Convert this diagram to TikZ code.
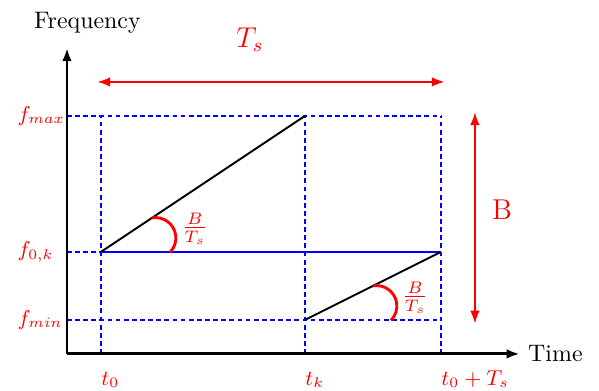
\documentclass[tikz,border=0pt]{standalone}
\usepackage{amsmath}
\usepackage{tikz}
\usetikzlibrary{arrows.meta,positioning,calc}

\begin{document}
\begin{tikzpicture}[
    x=0.5cm, y=0.5cm,
    >=Latex,
    axis/.style={-{Latex[length=5.5pt,width=4pt]}, very thick},
    grid/.style={blue, dash pattern=on 2pt off 1.4pt, semithick},
    chirp/.style={thick},
    lbl/.style={red},
    dim/.style={<->, red, line width=0.5pt},
    ang/.style={red, very thick}
]
    \useasboundingbox (-1.97,-1.09) rectangle (15.65,10.41);

    % axes and grid points
    \coordinate (O) at (0,0);
    \coordinate (xend) at (13.32,0);
    \coordinate (yend) at (0,9);
    \coordinate (t0) at (1,0);
    \coordinate (tk) at (7,0);
    \coordinate (tn) at (11,0);
    \coordinate (fmax) at (0,7);
    \coordinate (f0k) at (0,3);
    \coordinate (fmin) at (0,1);

    % dashed grid
    \draw[grid] (fmax) -- (tn |- fmax);
    \draw[grid] (fmin) -- (tn |- fmin);
    \draw[grid] (f0k) -- (t0 |- f0k);
    \draw[grid] (t0) -- (t0 |- fmax);
    \draw[grid] (tk) -- (tk |- fmax);
    \draw[grid] (tn) -- (tn |- fmax);
    \draw[blue, semithick] (t0 |- f0k) -- (tn |- f0k);

    \draw[axis] (O) -- (xend);
    \draw[axis] (O) -- (yend);
    \node[anchor=west] (time) at (xend) {Time};
    \node (freq) at (0.6,9.75) {Frequency};

    % chirp segments
    \draw[chirp] (t0 |- f0k) -- (tk |- fmax);
    \draw[chirp] (tk |- fmin) -- (tn |- f0k);

    % slope marks
    \draw[ang] (2.5,4) arc (100:-45:0.6);
    \draw[ang] (9,2) arc (100:-45:0.6);
    \node[lbl] (s1) at (3.76,3.68) {$\frac{B}{T_s}$};
    \node[lbl] (s2) at (10.24,1.65) {$\frac{B}{T_s}$};

    % axis labels
    \node[lbl, anchor=west, font=\small] (lmax) at (-1.7,7) {$f_{max}$};
    \node[lbl, anchor=west, font=\small] (l0k) at (-1.7,3) {$f_{0,k}$};
    \node[lbl, anchor=west, font=\small] (lmin) at (-1.7,1) {$f_{min}$};
    \node[lbl, anchor=base west, inner sep=0pt, font=\small] (lt0) at (1,-0.92) {$t_0$};
    \node[lbl, anchor=base west, inner sep=0pt, font=\small] (ltk) at (7,-0.92) {$t_k$};
    \node[lbl, anchor=base west, inner sep=0pt, font=\small] (ltn) at (11,-0.92) {$t_0+T_s$};

    % period and bandwidth
    \coordinate (tsL) at (0.9,8);
    \coordinate (tsR) at (11.1,8);
    \draw[dim] (tsL) -- (tsR);
    \node[lbl, font=\large] (ts) at (5.38,9.24) {$T_s$};
    \coordinate (bT) at (12,7.1);
    \coordinate (bB) at (12,0.9);
    \draw[dim] (bT) -- (bB);
    \node[lbl, font=\large] (bw) at (12.8,4.24) {B};
\end{tikzpicture}
\end{document}
